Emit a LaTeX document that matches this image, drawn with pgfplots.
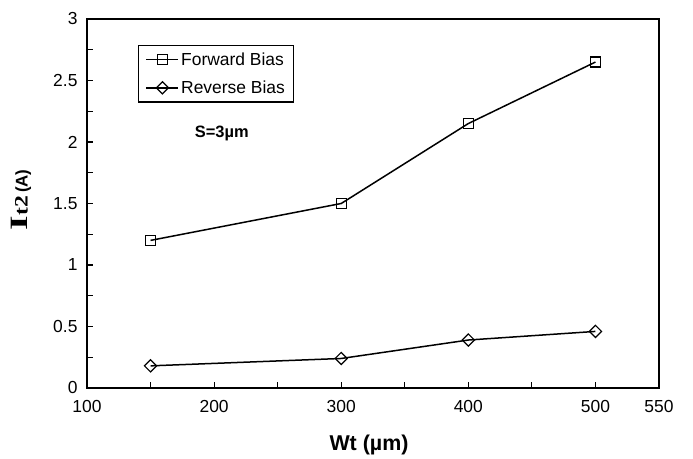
\documentclass[border=0pt]{standalone}
\usepackage{graphicx}
\usepackage{pgfplots}
\pgfplotsset{compat=1.18}
\usepackage{fontspec}
\setmainfont{Liberation Sans}
\newfontfamily\serif{Liberation Serif}
\begin{document}
\begin{tikzpicture}[x=1bp,y=1bp]
\useasboundingbox (0,0) rectangle (693,459);
\begin{axis}[
  at={(87bp,71bp)}, anchor=south west,
  scale only axis, width=572bp, height=369bp,
  xmin=100, xmax=550, ymin=0, ymax=3,
  xtick={100,200,300,400,500,550},
  minor xtick={150,250,350,450},
  ytick={0,0.5,1,1.5,2,2.5,3},
  minor ytick={0.25,0.75,1.25,1.75,2.25,2.75},
  xtick pos=bottom, ytick pos=left,
  tick align=inside,
  major tick length=6bp, minor tick length=6bp,
  every tick/.style={black, line width=1.2bp},
  every minor tick/.style={black, line width=1.2bp},
  axis line style={line width=1.6bp},
  /pgf/number format/assume math mode=true,
  tick label style={font=\fontsize{17.5}{19}\selectfont},
  xticklabel style={yshift=-9bp},
  yticklabel style={xshift=-6bp},
  xlabel={\fontsize{21.5}{22}\selectfont\bfseries Wt (µm)},
  xlabel style={at={(axis description cs:0.493,-0.154)}, anchor=center},
  ylabel={{\serif\bfseries\fontsize{25}{25}\selectfont\scalebox{1.5}[1]{I}}{\serif\bfseries\fontsize{19}{19}\selectfont\scalebox{1.25}[1]{t2}}\hspace{3bp}{\bfseries\fontsize{17}{19}\selectfont (A)}},
  ylabel style={at={(axis description cs:-0.115,0.51)}, anchor=center},
  legend cell align=left,
  legend style={at={(axis description cs:0.0892,0.9295)}, anchor=north west,
    draw=black, line width=1.3bp, font=\fontsize{17.5}{19}\selectfont,
    inner xsep=7bp, inner ysep=5bp, row sep=10bp},
  legend image code/.code={\draw[mark repeat=2,mark phase=2] plot coordinates {(0bp,0bp) (16bp,0bp) (32bp,0bp)};},
]
\addplot[black, line width=1.5bp, mark=square, mark size=5bp, mark options={solid, line width=1.4bp}]
  coordinates {(150,1.20) (300,1.50) (400,2.15) (500,2.65)};
\addlegendentry{Forward Bias}
\addplot[black, line width=1.5bp, mark=square, mark size=4.3bp, mark options={solid, rotate=45, line width=1.2bp}]
  coordinates {(150,0.18) (300,0.24) (400,0.39) (500,0.46)};
\addlegendentry{Reverse Bias}
\node[font=\fontsize{16.5}{18}\selectfont\bfseries] at (axis cs:206,2.07) {S=3µm};
\end{axis}
\end{tikzpicture}
\end{document}
